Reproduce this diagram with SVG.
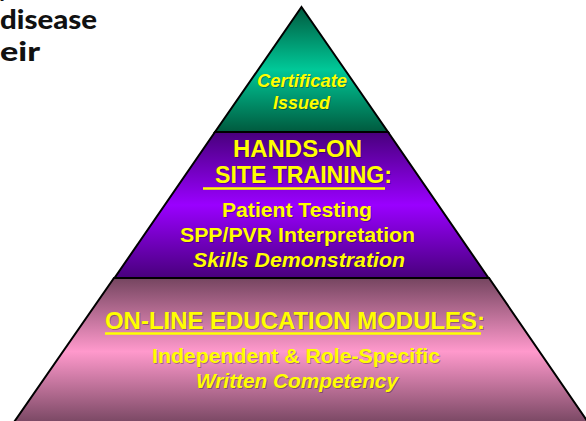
<svg xmlns="http://www.w3.org/2000/svg" width="586" height="421" viewBox="0 0 586 421">
  <defs>
    <linearGradient id="gGreen" x1="0" y1="0" x2="0" y2="1">
      <stop offset="0" stop-color="#005a3e"/>
      <stop offset="0.5" stop-color="#00c898"/>
      <stop offset="1" stop-color="#005a3e"/>
    </linearGradient>
    <linearGradient id="gPurple" x1="0" y1="0" x2="0" y2="1">
      <stop offset="0" stop-color="#48007c"/>
      <stop offset="0.5" stop-color="#9a00ff"/>
      <stop offset="1" stop-color="#48007c"/>
    </linearGradient>
    <linearGradient id="gPink" x1="0" y1="0" x2="0" y2="1">
      <stop offset="0" stop-color="#754560"/>
      <stop offset="0.5" stop-color="#ff99cc"/>
      <stop offset="1" stop-color="#754560"/>
    </linearGradient>
  </defs>
  <style>
    .tier { stroke: #000; stroke-width: 2; stroke-linejoin: miter; }
    .t { font-family: "Liberation Sans", Arial, sans-serif; font-weight: bold; fill: #ffff00; text-anchor: middle; }
    .sh { font-family: "Liberation Sans", Arial, sans-serif; font-weight: bold; fill: #000; fill-opacity: 0.3; text-anchor: middle; }
    .it { font-style: italic; }
    .ul { stroke: #ffff00; stroke-width: 2.5; }
    .blk { font-family: "Lato", "DejaVu Sans", sans-serif; font-weight: 900; fill: #111; }
  </style>

  <g id="caption">
    <text class="blk" x="-2" y="-3" font-size="22">y</text>
    <text class="blk" x="0" y="29" font-size="27" textLength="97" lengthAdjust="spacingAndGlyphs">disease</text>
    <text class="blk" x="0" y="61" font-size="27" textLength="40" lengthAdjust="spacingAndGlyphs">eir</text>
  </g>

  <g id="tier-base">
    <polygon class="tier" fill="url(#gPink)" points="114,278 489,278 590,425 12,425"/>
    <text class="sh" x="296" y="330" font-size="23" textLength="380" lengthAdjust="spacingAndGlyphs">ON-LINE EDUCATION MODULES:</text>
    <text class="t" x="295" y="329" font-size="23" textLength="380" lengthAdjust="spacingAndGlyphs">ON-LINE EDUCATION MODULES:</text>
    <line class="ul" x1="105" y1="333.5" x2="481" y2="333.5"/>
    <text class="sh" x="297" y="364" font-size="20" textLength="288" lengthAdjust="spacingAndGlyphs">Independent &amp; Role-Specific</text>
    <text class="t" x="296" y="363" font-size="20" textLength="288" lengthAdjust="spacingAndGlyphs">Independent &amp; Role-Specific</text>
    <text class="sh it" x="298" y="389" font-size="20" textLength="202" lengthAdjust="spacingAndGlyphs">Written Competency</text>
    <text class="t it" x="297" y="388" font-size="20" textLength="202" lengthAdjust="spacingAndGlyphs">Written Competency</text>
  </g>

  <g id="tier-middle">
    <polygon class="tier" fill="url(#gPurple)" points="215,132 388,132 488.5,278 114.5,278"/>
    <text class="sh" x="298.5" y="158" font-size="24" textLength="129" lengthAdjust="spacingAndGlyphs">HANDS-ON</text>
    <text class="t" x="297.5" y="157" font-size="24" textLength="129" lengthAdjust="spacingAndGlyphs">HANDS-ON</text>
    <text class="sh" x="304.5" y="184" font-size="24" textLength="177" lengthAdjust="spacingAndGlyphs">SITE TRAINING:</text>
    <text class="t" x="303.5" y="183" font-size="24" textLength="177" lengthAdjust="spacingAndGlyphs">SITE TRAINING:</text>
    <line class="ul" x1="203" y1="188.5" x2="385" y2="188.5"/>
    <text class="sh" x="298" y="218" font-size="20" textLength="150" lengthAdjust="spacingAndGlyphs">Patient Testing</text>
    <text class="t" x="297" y="217" font-size="20" textLength="150" lengthAdjust="spacingAndGlyphs">Patient Testing</text>
    <text class="sh" x="298.5" y="243" font-size="20" textLength="235" lengthAdjust="spacingAndGlyphs">SPP/PVR Interpretation</text>
    <text class="t" x="297.5" y="242" font-size="20" textLength="235" lengthAdjust="spacingAndGlyphs">SPP/PVR Interpretation</text>
    <text class="sh it" x="300" y="268" font-size="20" textLength="212" lengthAdjust="spacingAndGlyphs">Skills Demonstration</text>
    <text class="t it" x="299" y="267" font-size="20" textLength="212" lengthAdjust="spacingAndGlyphs">Skills Demonstration</text>
  </g>

  <g id="tier-top">
    <polygon class="tier" fill="url(#gGreen)" points="301.5,7 388,132 215,132"/>
    <text class="sh it" x="303" y="88" font-size="18" textLength="90" lengthAdjust="spacingAndGlyphs">Certificate</text>
    <text class="t it" x="302" y="87" font-size="18" textLength="90" lengthAdjust="spacingAndGlyphs">Certificate</text>
    <text class="sh it" x="302.5" y="110" font-size="18" textLength="57" lengthAdjust="spacingAndGlyphs">Issued</text>
    <text class="t it" x="301.5" y="109" font-size="18" textLength="57" lengthAdjust="spacingAndGlyphs">Issued</text>
  </g>
</svg>
